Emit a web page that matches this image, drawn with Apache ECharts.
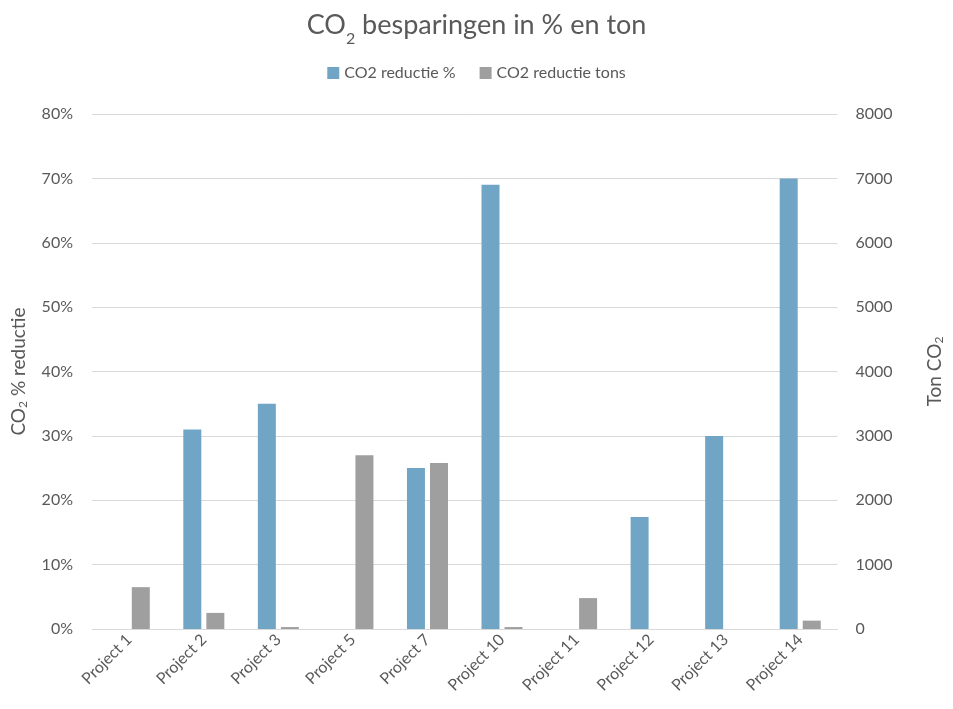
<!DOCTYPE html>
<html><head><meta charset="utf-8">
<script src="https://cdn.jsdelivr.net/npm/echarts@6/dist/echarts.min.js"></script>
<style>html,body{margin:0;padding:0;background:#fff}#c{width:953px;height:709px}</style>
</head><body><div id="c"></div>
<script>
var categories = ['Project 1','Project 2','Project 3','Project 5','Project 7','Project 10','Project 11','Project 12','Project 13','Project 14'];
var reductionPct = [0, 31, 35, 0, 25, 69, 0, 17.4, 30, 70];
var reductionTons = [650, 250, 30, 2700, 2580, 30, 480, 0, 0, 130];
var leftTicks = [0, 10, 20, 30, 40, 50, 60, 70, 80];
var rightTicks = [0, 1000, 2000, 3000, 4000, 5000, 6000, 7000, 8000];

var FONT = 'Lato, "Open Sans", sans-serif';
var TXT = '#595959';
var chart = echarts.init(document.getElementById('c'));
chart.setOption({
  animation: false,
  textStyle: {fontFamily: FONT},
  title: {
    text: '{a|CO}{s|2}{a| besparingen in % en ton}',
    left: 'center', top: 0,
    textStyle: {
      fontWeight: 'normal',
      rich: {
        a: {fontFamily: FONT, fontSize: 27, fontWeight: 'normal', color: TXT, verticalAlign: 'bottom', lineHeight: 34},
        s: {fontFamily: FONT, fontSize: 16, fontWeight: 'normal', color: TXT, verticalAlign: 'bottom', lineHeight: 34, padding: [0,0,-8,0]}
      }
    }
  },
  legend: {
    top: 60, left: 'center',
    itemWidth: 12, itemHeight: 12, itemGap: 24,
    icon: 'rect',
    textStyle: {color: TXT, fontSize: 16, fontFamily: FONT},
    data: ['CO2 reductie %', 'CO2 reductie tons']
  },
  grid: {left: 92, right: 110, top: 114, bottom: 80},
  xAxis: {
    type: 'category', data: categories,
    axisTick: {show: false},
    axisLine: {lineStyle: {color: '#d9d9d9', width: 1}},
    axisLabel: {rotate: 45, color: TXT, fontSize: 16, margin: 8, interval: 0, fontFamily: FONT}
  },
  yAxis: [{
    type: 'value', min: leftTicks[0], max: leftTicks[leftTicks.length-1], interval: 10,
    name: '{a|CO}{s|2}{a| % reductie}', nameLocation: 'middle', nameGap: 61, nameRotate: 90,
    nameTextStyle: {rich: {
      a: {fontFamily: FONT, fontSize: 19, color: TXT, lineHeight: 24},
      s: {fontFamily: FONT, fontSize: 12, color: TXT, lineHeight: 24, padding: [9,0,0,0]}
    }},
    axisLabel: {formatter: '{value}%', color: TXT, fontSize: 16, margin: 19, fontFamily: FONT},
    axisLine: {show: false}, axisTick: {show: false},
    splitLine: {lineStyle: {color: '#d9d9d9', width: 1}}
  }, {
    type: 'value', min: rightTicks[0], max: rightTicks[rightTicks.length-1], interval: 1000,
    name: '{a|Ton CO}{s|2}', nameLocation: 'middle', nameGap: 85, nameRotate: 90,
    nameTextStyle: {rich: {
      a: {fontFamily: FONT, fontSize: 19, color: TXT, lineHeight: 24},
      s: {fontFamily: FONT, fontSize: 12, color: TXT, lineHeight: 24, padding: [9,0,0,0]}
    }},
    axisLabel: {color: TXT, fontSize: 16, margin: 18, fontFamily: FONT, formatter: function (v) { return String(v); }},
    axisLine: {show: false}, axisTick: {show: false},
    splitLine: {show: false}
  }],
  series: [{
    name: 'CO2 reductie %', type: 'bar', yAxisIndex: 0, data: reductionPct,
    barWidth: 18, barGap: '28%',
    itemStyle: {color: '#71a5c6'}
  }, {
    name: 'CO2 reductie tons', type: 'bar', yAxisIndex: 1, data: reductionTons,
    barWidth: 18, barGap: '28%',
    itemStyle: {color: '#9f9f9f'}
  }]
});
</script></body></html>
